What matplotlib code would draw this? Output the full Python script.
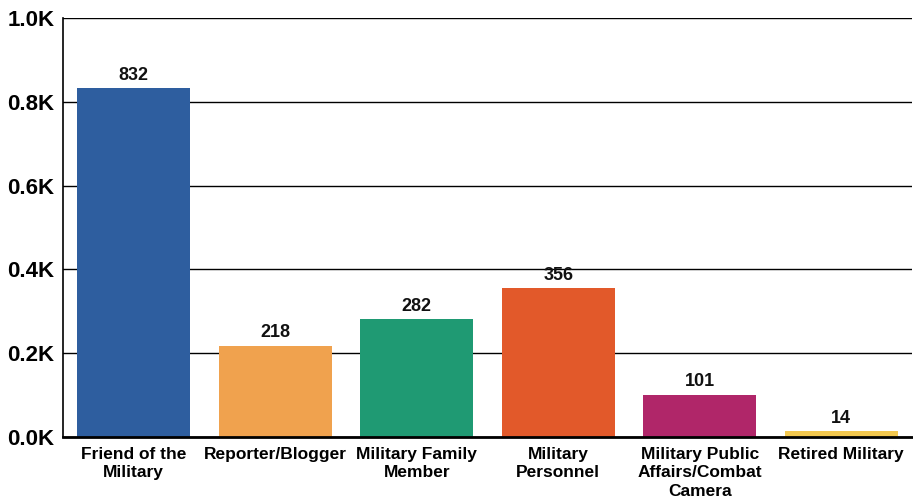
import matplotlib.pyplot as plt
from matplotlib.ticker import FuncFormatter

categories = ["Friend of the\nMilitary", "Reporter/Blogger", "Military Family\nMember",
              "Military\nPersonnel", "Military Public\nAffairs/Combat\nCamera", "Retired Military"]
counts = [832, 218, 282, 356, 101, 14]
colors = ["#2E5E9F", "#F0A24E", "#1F9A73", "#E2592A", "#B02669", "#F3C84E"]

plt.rcParams['font.family'] = ['Liberation Sans', 'DejaVu Sans']
plt.rcParams['font.weight'] = 'bold'

fig = plt.figure(figsize=(9.13, 5), dpi=100)
ax = fig.add_axes([63 / 913, 1 - 437 / 500, 849 / 913, 419 / 500])

x = range(len(categories))
bars = ax.bar(x, counts, width=0.8, color=colors, zorder=3)

# value labels above bars
for bar, v in zip(bars, counts):
    ax.text(bar.get_x() + bar.get_width() / 2, bar.get_height() + 10, str(v),
            ha='center', va='bottom', fontsize=13, fontweight='bold', color='#111111')

ax.set_xlim(-0.5, len(categories) - 0.5)
ax.set_ylim(0, 1000)
ax.set_yticks([0, 200, 400, 600, 800, 1000])
ax.yaxis.set_major_formatter(FuncFormatter(lambda v, p: f"{v / 1000:.1f}K"))
ax.set_xticks(list(x))
ax.set_xticklabels(categories, fontsize=12.5, fontweight='bold', linespacing=1.3)
ax.tick_params(axis='y', labelsize=16, length=0, pad=6)
ax.tick_params(axis='x', length=0, pad=7)

ax.grid(axis='y', color='black', linewidth=1.0, zorder=0)
for s in ['top', 'right']:
    ax.spines[s].set_visible(False)
ax.spines['left'].set_linewidth(1.2)
ax.spines['bottom'].set_linewidth(2)
ax.spines['bottom'].set_zorder(4)

fig.savefig("out.png", dpi=100)
